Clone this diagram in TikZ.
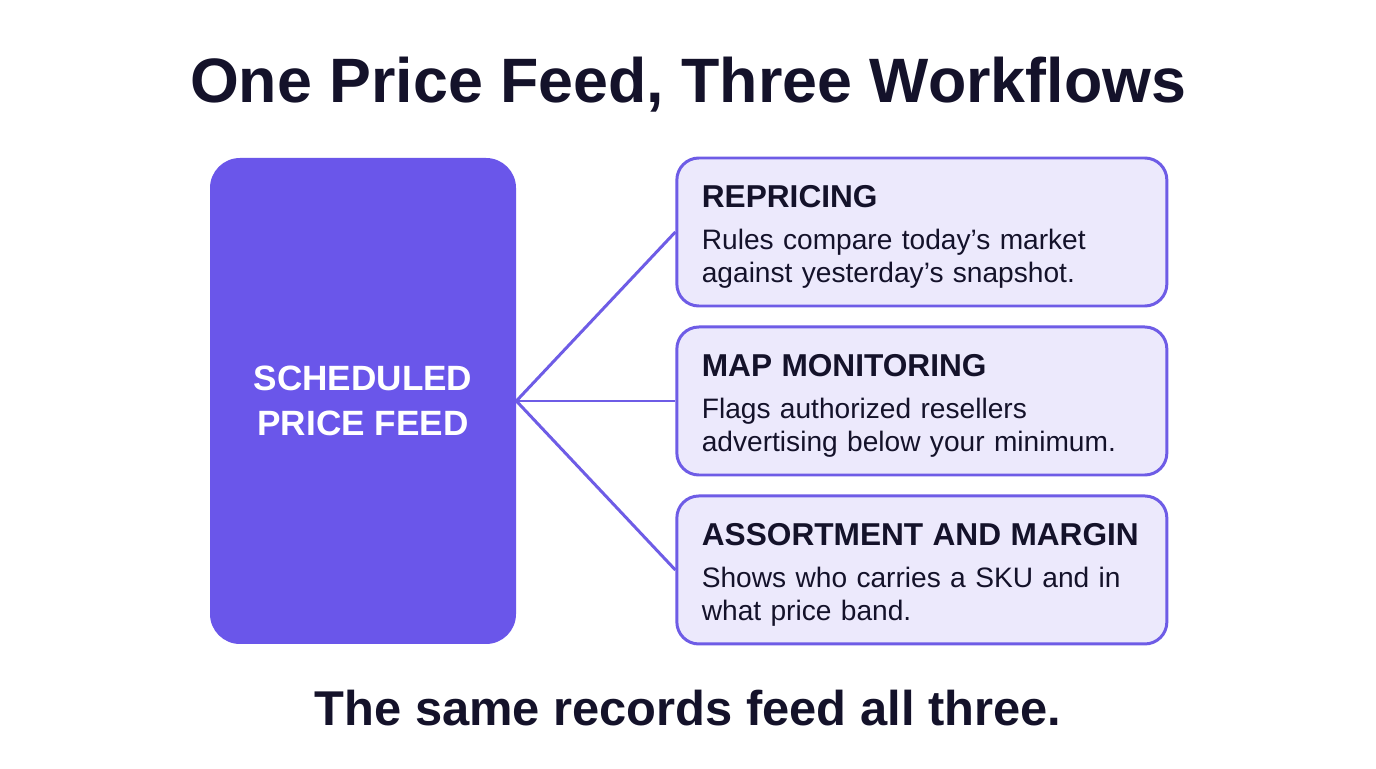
\documentclass[tikz,border=0pt]{standalone}
\usepackage{fontspec}
\setmainfont{Liberation Sans}
\usetikzlibrary{positioning}
\definecolor{FeedViolet}{RGB}{106,86,234}
\definecolor{CardFill}{RGB}{236,233,252}
\definecolor{CardEdge}{RGB}{110,92,230}
\definecolor{InkNavy}{RGB}{20,18,42}
\tikzset{
  feedbox/.style={fill=FeedViolet,rounded corners=0.6cm,
    minimum width=6.12cm,minimum height=9.72cm,align=center,
    text=white,font=\fontsize{20}{26}\selectfont\bfseries},
  card/.style={draw=CardEdge,line width=1.7pt,fill=CardFill,rounded corners=0.44cm,
    minimum height=2.96cm,inner xsep=0.5cm,text width=8.8cm,align=left,
    text=InkNavy,font=\fontsize{16}{18.8}\selectfont},
  link/.style={draw=CardEdge,line width=1.7pt},
  banner/.style={anchor=base,text=InkNavy}
}
\newcommand{\cardhead}[1]{{\bfseries\fontsize{18}{22}\selectfont\rule{0pt}{18pt}#1}\\[5.5pt]}

\begin{document}
\begin{tikzpicture}
  \useasboundingbox[fill=white] (0,0) rectangle (27.52,15.36);
  \node[banner,font=\fontsize{35.7}{40}\selectfont\bfseries] (title) at (13.76,13.3)
    {One Price Feed, Three Workflows};
  \node[feedbox] (feed) at (7.26,7.34) {SCHEDULED\\PRICE FEED};
  \node[card,right=3.18cm of feed] (map) {\cardhead{MAP MONITORING}
    Flags authorized resellers\\advertising below your minimum.};
  \node[card,above=0.36cm of map] (repricing) {\cardhead{REPRICING}
    Rules compare today's market\\against yesterday's snapshot.};
  \node[card,below=0.36cm of map] (assortment) {\cardhead{ASSORTMENT AND MARGIN}
    Shows who carries a SKU and in\\what price band.};
  % one feed, three branches
  \foreach \wf in {repricing,map,assortment}
    \draw[link] (feed.east) -- (\wf.west);
  \node[banner,font=\fontsize{27.8}{32}\selectfont\bfseries] (footer) at (13.76,0.86)
    {The same records feed all three.};
\end{tikzpicture}
\end{document}
